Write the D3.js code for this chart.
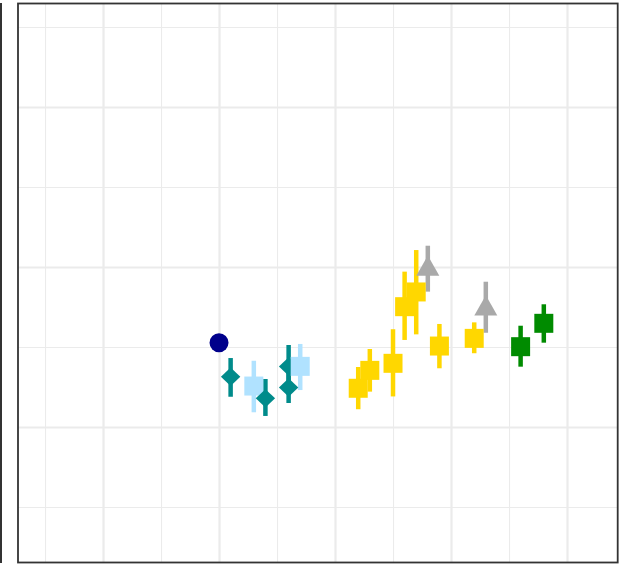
<!DOCTYPE html>
<html>
<head>
<meta charset="utf-8">
<script src="https://cdn.jsdelivr.net/npm/d3@7"></script>
<style>
  html, body { margin: 0; padding: 0; background: #ffffff; }
  svg { display: block; }
</style>
</head>
<body>
<div id="chart"></div>
<script>
// ---- data ----
const years     = [1990, 1991, 1993, 1994, 1996, 1996, 1997, 2002, 2003, 2005, 2006, 2007, 2008, 2009, 2012, 2013, 2016, 2018];
const groups    = ["A", "B", "C", "B", "B", "B", "C", "D", "D", "D", "D", "D", "E", "D", "D", "E", "F", "F"];
const estimates = [1.527, 1.314, 1.256, 1.179, 1.378, 1.247, 1.379, 1.242, 1.354, 1.398, 1.752, 1.844, 1.9875, 1.506, 1.554, 1.739, 1.502, 1.648];
const lowers    = [null, 1.189, 1.092, 1.069, 1.244, 1.150, 1.231, 1.111, 1.221, 1.191, 1.544, 1.579, 1.846, 1.367, 1.461, 1.589, 1.377, 1.527];
const uppers    = [null, 1.431, 1.414, 1.300, 1.5125, 1.344, 1.519, 1.375, 1.4875, 1.611, 1.971, 2.106, 2.133, 1.644, 1.654, 1.908, 1.633, 1.767];

const groupNames  = ["A", "B", "C", "D", "E", "F"];
const groupColors = ["#00008B", "#008B8B", "#B0E2FF", "#FFD700", "#A9A9A9", "#008B00"];
const groupShapes = ["circle", "diamond", "square", "square", "triangle", "square"];

const xMajorTicks = [1980, 1990, 2000, 2010, 2020];
const xMinorTicks = [1975, 1985, 1995, 2005, 2015];
const yMajorTicks = [1, 2, 3];
const yMinorTicks = [0.5, 1.5, 2.5, 3.5];

// ---- layout ----
const W = 621, H = 564;
const panel = { left: 18, right: 617.7, top: 3.5, bottom: 562.5 };

const svg = d3.select("#chart").append("svg")
  .attr("width", W).attr("height", H);

const x = d3.scaleLinear().domain([1972.67, 2024.37]).range([panel.left, panel.right]);
const y = d3.scaleLinear().domain([0.1531, 3.6469]).range([panel.bottom, panel.top]);

const color = d3.scaleOrdinal().domain(groupNames).range(groupColors);
const shape = d3.scaleOrdinal().domain(groupNames).range(groupShapes);

// partial neighbouring panel at the far left
svg.append("line")
  .attr("x1", 1).attr("x2", 1)
  .attr("y1", panel.top - 0.5).attr("y2", panel.bottom + 0.5)
  .attr("stroke", "#333333").attr("stroke-width", 2);

// grid
const grid = svg.append("g");
function gridAxis(axisGen, ticks, width, transform) {
  const g = grid.append("g").attr("transform", transform)
    .call(axisGen.tickValues(ticks).tickFormat("").tickSizeOuter(0));
  g.select(".domain").remove();
  g.selectAll(".tick line").attr("stroke", "#ebebeb").attr("stroke-width", width);
}
const ph = panel.bottom - panel.top, pw = panel.right - panel.left;
gridAxis(d3.axisBottom(x).tickSizeInner(ph), xMinorTicks, 1.1, `translate(0,${panel.top})`);
gridAxis(d3.axisRight(y).tickSizeInner(pw), yMinorTicks.filter(v => y(v) > panel.top && y(v) < panel.bottom), 1.1, `translate(${panel.left},0)`);
gridAxis(d3.axisBottom(x).tickSizeInner(ph), xMajorTicks, 2.2, `translate(0,${panel.top})`);
gridAxis(d3.axisRight(y).tickSizeInner(pw), yMajorTicks, 2.2, `translate(${panel.left},0)`);

const data = years.map((yr, i) => ({
  x: yr, g: groups[i], est: estimates[i], lo: lowers[i], hi: uppers[i]
}));

// error bars
svg.append("g").selectAll("line")
  .data(data.filter(d => d.lo !== null))
  .join("line")
  .attr("x1", d => x(d.x)).attr("x2", d => x(d.x))
  .attr("y1", d => y(d.lo)).attr("y2", d => y(d.hi))
  .attr("stroke", d => color(d.g))
  .attr("stroke-width", 4.5);

// points
function shapePath(s) {
  if (s === "circle") {
    const r = 9.5;
    return `M${-r},0A${r},${r} 0 1,0 ${r},0A${r},${r} 0 1,0 ${-r},0Z`;
  }
  if (s === "square") {
    const h = 9.5;
    return `M${-h},${-h}H${h}V${h}H${-h}Z`;
  }
  if (s === "diamond") {
    const a = 9.7, b = 9.2;
    return `M0,${-b}L${a},0L0,${b}L${-a},0Z`;
  }
  if (s === "triangle") {
    const hw = 11.5;
    return `M0,-13.5L${hw},6.8L${-hw},6.8Z`;
  }
}
svg.append("g").selectAll("path")
  .data(data)
  .join("path")
  .attr("transform", d => `translate(${x(d.x)},${y(d.est)})`)
  .attr("d", d => shapePath(shape(d.g)))
  .attr("fill", d => color(d.g));

// panel border
svg.append("rect")
  .attr("x", panel.left).attr("y", panel.top)
  .attr("width", pw).attr("height", ph)
  .attr("fill", "none")
  .attr("stroke", "#333333").attr("stroke-width", 1.8);
</script>
</body>
</html>
